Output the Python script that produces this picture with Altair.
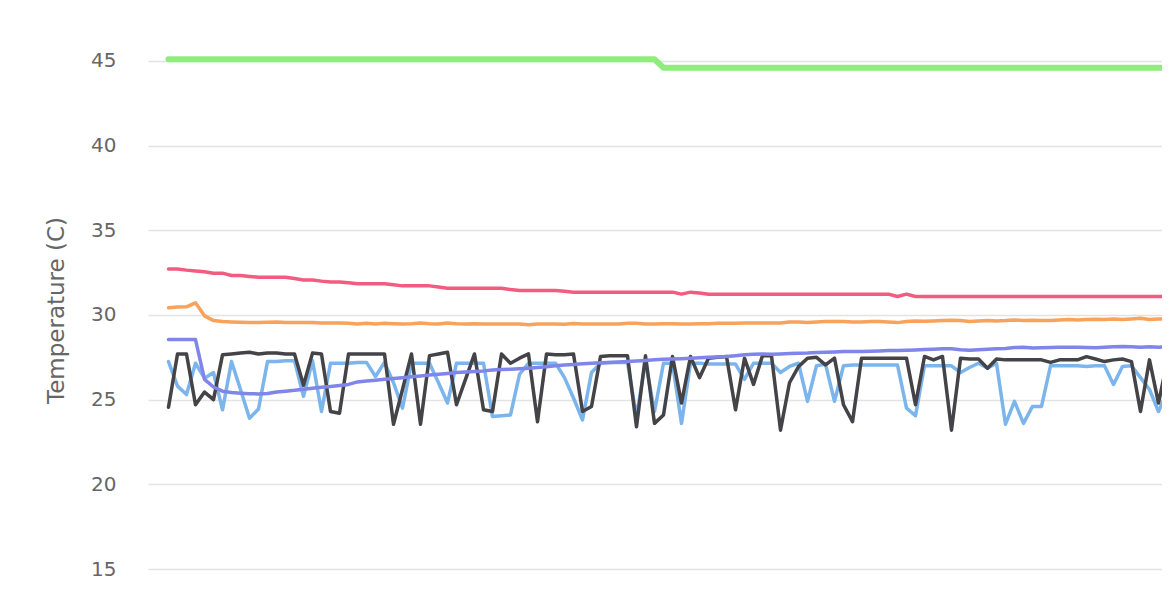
import altair as alt
import pandas as pd

# sample index (regular time steps)
idx = list(range(113))

light_blue = [27.25, 25.8, 25.3, 27.15, 26.27, 26.6, 24.4, 27.25, 25.6, 23.9,
              24.45, 27.25, 27.25, 27.3, 27.3, 25.2, 27.3, 24.3, 27.15, 27.15,
              27.15, 27.2, 27.2, 26.37, 27.2, 26.0, 24.5, 27.15, 27.15, 27.15,
              26.0, 24.8, 27.15, 27.15, 27.15, 27.15, 24.0, 24.05, 24.1, 26.5,
              27.15, 27.15, 27.15, 27.15, 26.3, 25.1, 23.8, 26.6, 27.15, 27.2,
              27.2, 27.2, 24.0, 27.25, 24.3, 27.15, 27.15, 23.6, 27.15, 27.15,
              27.1, 27.1, 27.1, 27.1, 26.2, 27.15, 27.15, 27.15, 26.6, 26.96,
              27.15, 24.9, 27.0, 27.1, 24.9, 27.0, 27.05, 27.05, 27.05, 27.05,
              27.05, 27.05, 24.5, 24.05, 27.0, 27.0, 27.0, 27.0, 26.6, 26.9,
              27.15, 26.86, 27.15, 23.55, 24.9, 23.6, 24.6, 24.6, 27.0, 27.0,
              27.0, 27.0, 26.96, 27.0, 27.0, 25.9, 26.96, 27.0, 26.3, 25.6,
              24.3, 25.5, 27.0]

dark = [24.55, 27.7, 27.7, 24.7, 25.45, 25.0, 27.65, 27.7, 27.75, 27.8,
        27.7, 27.75, 27.75, 27.7, 27.7, 25.85, 27.75, 27.7, 24.3, 24.2,
        27.7, 27.7, 27.7, 27.7, 27.7, 23.55, 25.6, 27.7, 23.55, 27.6,
        27.7, 27.8, 24.7, 26.2, 27.7, 24.4, 24.3, 27.7, 27.15, 27.45,
        27.7, 23.7, 27.7, 27.65, 27.65, 27.7, 24.3, 24.6, 27.55, 27.6,
        27.6, 27.6, 23.4, 27.6, 23.6, 24.1, 27.55, 24.8, 27.55, 26.3,
        27.45, 27.5, 27.55, 24.4, 27.45, 25.9, 27.6, 27.6, 23.2, 26.0,
        26.95, 27.45, 27.5, 27.05, 27.45, 24.7, 23.7, 27.45, 27.45, 27.45,
        27.45, 27.45, 27.45, 24.7, 27.55, 27.35, 27.55, 23.2, 27.45, 27.4,
        27.4, 26.86, 27.4, 27.35, 27.35, 27.35, 27.35, 27.35, 27.2, 27.35,
        27.35, 27.35, 27.54, 27.4, 27.25, 27.35, 27.4, 27.25, 24.3, 27.35,
        24.8, 27.35, 25.0]

green = [45.1, 45.1, 45.1, 45.1, 45.1, 45.1, 45.1, 45.1, 45.1, 45.1,
         45.1, 45.1, 45.1, 45.1, 45.1, 45.1, 45.1, 45.1, 45.1, 45.1,
         45.1, 45.1, 45.1, 45.1, 45.1, 45.1, 45.1, 45.1, 45.1, 45.1,
         45.1, 45.1, 45.1, 45.1, 45.1, 45.1, 45.1, 45.1, 45.1, 45.1,
         45.1, 45.1, 45.1, 45.1, 45.1, 45.1, 45.1, 45.1, 45.1, 45.1,
         45.1, 45.1, 45.1, 45.1, 45.1, 44.6, 44.6, 44.6, 44.6, 44.6,
         44.6, 44.6, 44.6, 44.6, 44.6, 44.6, 44.6, 44.6, 44.6, 44.6,
         44.6, 44.6, 44.6, 44.6, 44.6, 44.6, 44.6, 44.6, 44.6, 44.6,
         44.6, 44.6, 44.6, 44.6, 44.6, 44.6, 44.6, 44.6, 44.6, 44.6,
         44.6, 44.6, 44.6, 44.6, 44.6, 44.6, 44.6, 44.6, 44.6, 44.6,
         44.6, 44.6, 44.6, 44.6, 44.6, 44.6, 44.6, 44.6, 44.6, 44.6,
         44.6, 44.6, 44.6]

orange = [30.43, 30.47, 30.48, 30.72, 29.95, 29.67, 29.62, 29.59, 29.57, 29.55,
          29.55, 29.57, 29.59, 29.55, 29.55, 29.55, 29.55, 29.53, 29.53, 29.53,
          29.51, 29.47, 29.51, 29.47, 29.51, 29.49, 29.47, 29.49, 29.53, 29.49,
          29.47, 29.53, 29.49, 29.47, 29.49, 29.47, 29.47, 29.47, 29.47, 29.47,
          29.43, 29.47, 29.47, 29.47, 29.45, 29.5, 29.47, 29.47, 29.47, 29.47,
          29.47, 29.51, 29.51, 29.47, 29.47, 29.49, 29.49, 29.47, 29.47, 29.49,
          29.49, 29.51, 29.51, 29.51, 29.53, 29.53, 29.53, 29.53, 29.53, 29.59,
          29.59, 29.55, 29.59, 29.61, 29.62, 29.61, 29.59, 29.59, 29.61, 29.61,
          29.59, 29.55, 29.61, 29.65, 29.63, 29.65, 29.67, 29.69, 29.67, 29.62,
          29.65, 29.67, 29.65, 29.67, 29.71, 29.67, 29.69, 29.67, 29.67, 29.71,
          29.73, 29.71, 29.73, 29.75, 29.73, 29.77, 29.73, 29.77, 29.81, 29.73,
          29.77, 29.77, 29.77]

purple = [28.55, 28.55, 28.55, 28.55, 26.2, 25.75, 25.5, 25.42, 25.38, 25.35,
          25.34, 25.36, 25.45, 25.5, 25.55, 25.62, 25.68, 25.73, 25.78, 25.84,
          25.9, 26.05, 26.1, 26.15, 26.2, 26.25, 26.3, 26.36, 26.4, 26.45,
          26.5, 26.55, 26.6, 26.63, 26.67, 26.7, 26.75, 26.78, 26.8, 26.83,
          26.86, 26.9, 26.95, 27.0, 27.05, 27.08, 27.12, 27.15, 27.18, 27.2,
          27.22, 27.25, 27.28, 27.32, 27.35, 27.38, 27.4, 27.42, 27.45, 27.48,
          27.5, 27.52, 27.55, 27.6, 27.65, 27.68, 27.7, 27.68, 27.7, 27.72,
          27.74, 27.75, 27.78, 27.8, 27.82, 27.84, 27.84, 27.85, 27.86, 27.88,
          27.9, 27.9, 27.92, 27.94, 27.96, 27.98, 28.0, 28.0, 27.95, 27.92,
          27.95, 27.98, 28.0, 28.02, 28.08, 28.1, 28.05, 28.06, 28.08, 28.1,
          28.1, 28.1, 28.08, 28.06, 28.1, 28.12, 28.14, 28.12, 28.1, 28.12,
          28.1, 28.12, 28.12]

pink = [32.72, 32.72, 32.65, 32.6, 32.55, 32.47, 32.47, 32.33, 32.33, 32.28,
        32.23, 32.23, 32.23, 32.23, 32.15, 32.07, 32.07, 32.0, 31.95, 31.95,
        31.9, 31.84, 31.84, 31.84, 31.84, 31.78, 31.72, 31.72, 31.72, 31.72,
        31.65, 31.58, 31.58, 31.58, 31.58, 31.58, 31.58, 31.58, 31.5, 31.44,
        31.44, 31.44, 31.44, 31.44, 31.4, 31.35, 31.35, 31.35, 31.35, 31.35,
        31.35, 31.35, 31.35, 31.35, 31.35, 31.35, 31.35, 31.23, 31.35, 31.3,
        31.23, 31.23, 31.23, 31.23, 31.23, 31.23, 31.23, 31.23, 31.23, 31.23,
        31.23, 31.23, 31.23, 31.23, 31.23, 31.23, 31.23, 31.23, 31.23, 31.23,
        31.23, 31.09, 31.23, 31.09, 31.09, 31.09, 31.09, 31.09, 31.09, 31.09,
        31.09, 31.09, 31.09, 31.09, 31.09, 31.09, 31.09, 31.09, 31.09, 31.09,
        31.09, 31.09, 31.09, 31.09, 31.09, 31.09, 31.09, 31.09, 31.09, 31.09,
        31.09, 31.09, 31.09]

y_ticks = [15, 20, 25, 30, 35, 40, 45]

series = [
    ("Sensor 1", light_blue, "#7cb5ec", 3.5),
    ("Sensor 2", dark, "#434348", 3.5),
    ("Sensor 3", green, "#90ed7d", 6),
    ("Sensor 4", orange, "#f7a35c", 3.5),
    ("Sensor 5", purple, "#8085e9", 3.5),
    ("Sensor 6", pink, "#f15c80", 3.5),
]

x_scale = alt.Scale(domain=[-2.278, 110.39], nice=False, zero=False)
y_scale = alt.Scale(domain=[13.17, 47.42], nice=False, zero=False)

y_axis = alt.Axis(
    values=y_ticks, grid=True, domain=False, ticks=False,
    labelPadding=32, labelFontSize=20, labelColor="#666666",
    labelFont="DejaVu Sans", gridColor="#e3e3e3", gridWidth=1.5,
    title="Temperature (C)", titleFontSize=23, titleColor="#666666",
    titleFont="DejaVu Sans", titleFontWeight="normal",
    titleX=-92, titleY=290, titleAlign="center", titleBaseline="middle",
)

layers = []
for name, vals, color, w in series:
    df = pd.DataFrame({"t": idx, "v": vals})
    layer = alt.Chart(df).mark_line(
        clip=True, color=color, strokeWidth=w, strokeJoin="round", strokeCap="round"
    ).encode(
        x=alt.X("t:Q", scale=x_scale, axis=None),
        y=alt.Y("v:Q", scale=y_scale, axis=y_axis),
    )
    layers.append(layer)

chart = alt.layer(*layers).properties(
    width=1014, height=580,
    autosize=alt.AutoSizeParams(type="none"),
    padding={"left": 140, "top": 12, "right": 0, "bottom": 0},
    background="white",
).configure_view(stroke=None)

chart.save("out.html", embed_options={"renderer": "svg", "actions": False})
